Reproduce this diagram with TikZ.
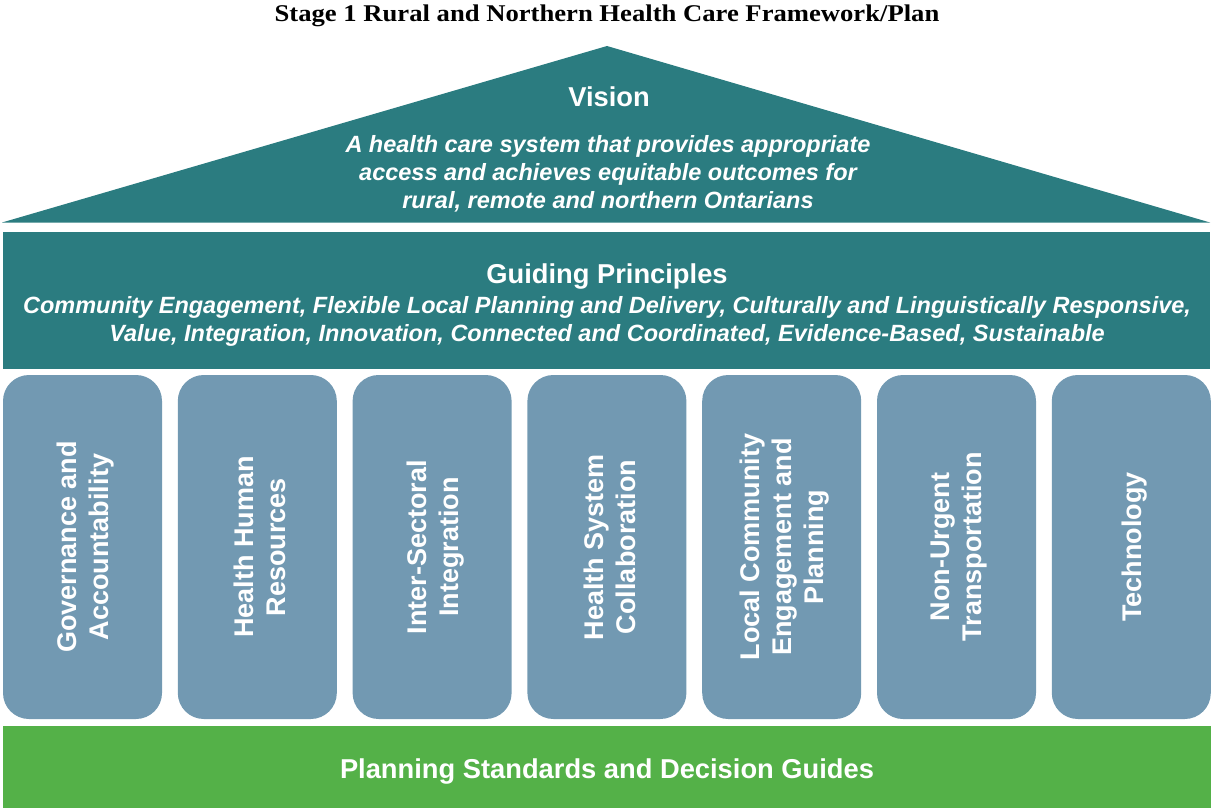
\documentclass[tikz,border=0pt]{standalone}
\usepackage{graphicx}
\usepackage{fontspec}
\setmainfont{Liberation Serif}
\setsansfont{Liberation Sans}
\definecolor{tealc}{RGB}{43,124,128}
\definecolor{pillarc}{RGB}{114,153,178}
\definecolor{greenc}{RGB}{84,177,72}
\begin{document}
\begin{tikzpicture}[x=1pt,y=-1pt,
  hd/.style={font=\sffamily\bfseries\fontsize{27.3}{32}\selectfont, text=white, inner sep=0pt},
  itx/.style={font=\sffamily\bfseries\itshape\fontsize{23.5}{28}\selectfont, text=white, align=center, inner sep=0pt},
  pillar/.style={fill=pillarc, draw=none, rounded corners=26pt, minimum width=159pt, minimum height=344pt, inner sep=0pt},
  pillartext/.style={rotate=90, align=center, text=white, inner sep=0pt, font=\sffamily\bfseries\fontsize{27}{32}\selectfont},
  band/.style={fill=#1, draw=none, inner sep=0pt}
]
\useasboundingbox (0,0) rectangle (1211,808);
% title
\node[font=\bfseries\fontsize{24}{28}\selectfont, inner sep=0pt] (title) at (607,16) {\scalebox{1.11}[1]{Stage 1 Rural and Northern Health Care Framework/Plan}};
% roof
\coordinate (roofL) at (2,222.5);
\coordinate (roofT) at (607,46);
\coordinate (roofR) at (1210,222.5);
\fill[tealc] (roofL) -- (roofT) -- (roofR) -- cycle;
\node[hd] (vision) at (609,97) {Vision};
\node[itx] (visiontext) at (608,173.5) {A health care system that provides appropriate\\access and achieves equitable outcomes for\\rural, remote and northern Ontarians};
% guiding principles
\node[band=tealc, minimum width=1207pt, minimum height=137pt] (guide) at (606.5,300.5) {};
\node[hd] (guidehd) at (607,276) {Guiding Principles};
\node[itx] (guidetext) at (607,321) {Community Engagement, Flexible Local Planning and Delivery, Culturally and Linguistically Responsive,\\Value, Integration, Innovation, Connected and Coordinated, Evidence-Based, Sustainable};
% pillars
\node[pillar] (p1) at (82.5,547) {};
\node[pillar] (p2) at (257.3,547) {};
\node[pillar] (p3) at (432.1,547) {};
\node[pillar] (p4) at (606.9,547) {};
\node[pillar] (p5) at (781.7,547) {};
\node[pillar] (p6) at (956.5,547) {};
\node[pillar] (p7) at (1131.3,547) {};
\node[pillartext] (t1) at ([xshift=3pt]p1.center) {Governance and\\Accountability};
\node[pillartext] (t2) at ([xshift=3pt]p2.center) {Health Human\\Resources};
\node[pillartext] (t3) at ([xshift=3pt]p3.center) {Inter-Sectoral\\Integration};
\node[pillartext] (t4) at ([xshift=3pt]p4.center) {Health System\\Collaboration};
\node[pillartext] (t5) at ([xshift=3pt]p5.center) {Local Community\\Engagement and\\Planning};
\node[pillartext] (t6) at ([xshift=3pt]p6.center) {Non-Urgent\\Transportation};
\node[pillartext] (t7) at ([xshift=3pt]p7.center) {Technology};
% foundation
\node[band=greenc, minimum width=1208pt, minimum height=82pt] (found) at (607,767) {};
\node[hd] (foundtext) at (607,771) {Planning Standards and Decision Guides};
\end{tikzpicture}
\end{document}
